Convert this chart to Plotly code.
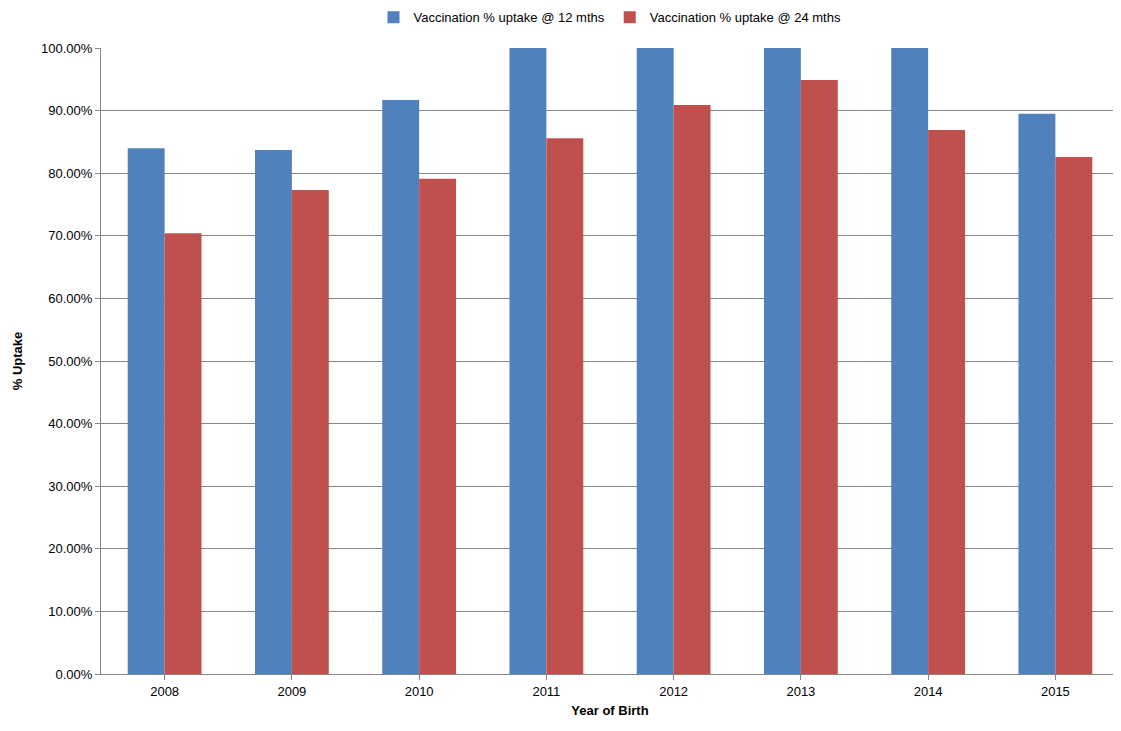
import plotly.graph_objects as go

years = ["2008","2009","2010","2011","2012","2013","2014","2015"]
uptake_12 = [84.0, 83.7, 91.7, 100.0, 100.0, 100.0, 100.0, 89.5]
uptake_24 = [70.4, 77.3, 79.1, 85.6, 90.9, 94.9, 86.9, 82.6]

fig = go.Figure()
fig.add_bar(x=years, y=uptake_12, name="Vaccination % uptake @ 12 mths", marker_color="#4F81BD", marker_line_width=0)
fig.add_bar(x=years, y=uptake_24, name="Vaccination % uptake @ 24 mths", marker_color="#C0504D", marker_line_width=0)

fig.update_layout(
    width=1121, height=731, barmode="group", bargap=0.42, bargroupgap=0,
    plot_bgcolor="white", paper_bgcolor="white",
    font=dict(family="Liberation Sans, Arial", size=13, color="#000"),
    margin=dict(l=93, r=10, t=40, b=65, autoexpand=False),
    legend=dict(orientation="h", x=0.5, xanchor="center", y=1.049, yanchor="middle", font=dict(size=13)),
    xaxis=dict(title=dict(text="<b>Year of Birth</b>", font=dict(size=13), standoff=8),
               showline=True, linecolor="#868686", ticks="outside", ticklen=5, tickcolor="#868686"),
    yaxis=dict(title=dict(text="<b>% Uptake</b>", font=dict(size=13)), range=[0,100], dtick=10,
               tickformat=".2f", ticksuffix="%", showgrid=True, gridcolor="#868686", gridwidth=1,
               showline=True, linecolor="#868686", ticks="outside", ticklen=5, tickcolor="#868686",
               zeroline=False),
)
fig.write_html("out.html")
